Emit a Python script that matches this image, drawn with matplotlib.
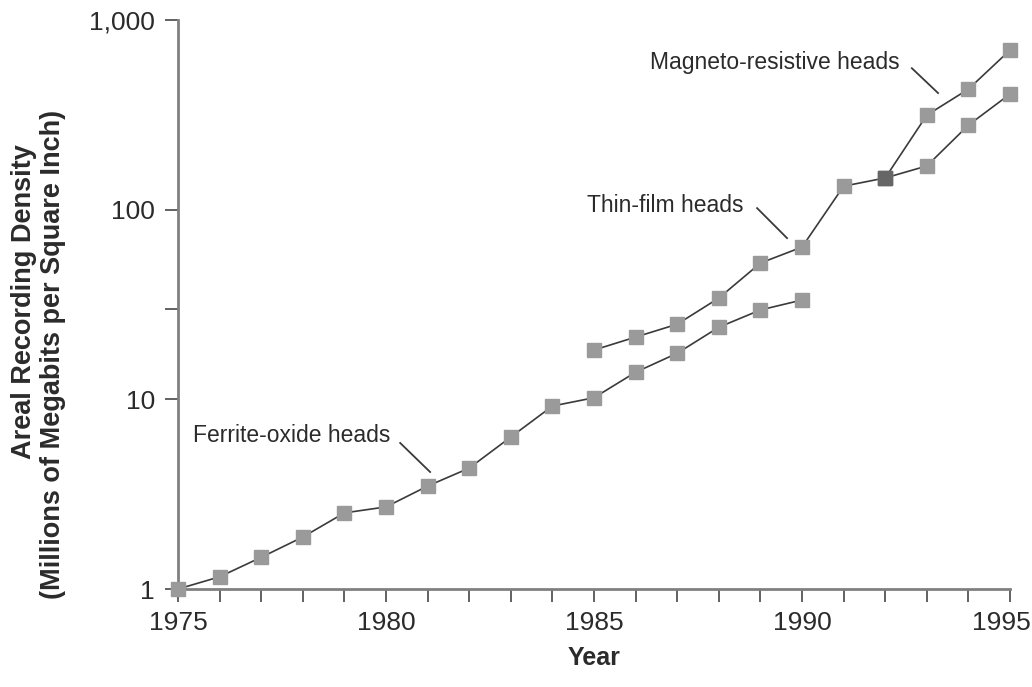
import matplotlib
matplotlib.use("Agg")
import matplotlib.pyplot as plt
from matplotlib.ticker import FixedLocator, NullLocator, NullFormatter
from matplotlib.transforms import ScaledTranslation

plt.rcParams['font.family'] = ['Liberation Sans', 'DejaVu Sans']

# Data
ferrite_years = [1975, 1976, 1977, 1978, 1979, 1980, 1981, 1982, 1983, 1984,
                 1985, 1986, 1987, 1988, 1989, 1990]
ferrite_vals = [1.0, 1.16, 1.47, 1.88, 2.52, 2.71, 3.49, 4.34, 6.33, 9.22,
                10.2, 13.9, 17.5, 24.0, 29.6, 33.4]

thin_years = [1985, 1986, 1987, 1988, 1989, 1990, 1991, 1992, 1993, 1994, 1995]
thin_vals = [18.2, 21.3, 24.9, 34.2, 52.3, 63.5, 133, 147, 170, 279, 407]

mr_years = [1992, 1993, 1994, 1995]
mr_vals = [147, 315, 432, 694]

x_ticks = list(range(1975, 1996))
x_labels = {1975: "1975", 1980: "1980", 1985: "1985", 1990: "1990", 1995: "1995"}
y_ticks = [1, 10, 30, 100, 1000]
y_labels = {1: "1", 10: "10", 30: "", 100: "100", 1000: "1,000"}

text_color = "#2b2b2b"
marker_color = "#9a9a9a"
line_color = "#3a3a3a"
spine_color = "#808080"

W, H = 1032, 687
fig = plt.figure(figsize=(W / 100, H / 100), dpi=100)
ax = fig.add_axes([0.1725, 0.1426, 0.9787 - 0.1725, 0.9709 - 0.1426])
ax.set_yscale('log')
ax.set_xlim(1975, 1995)
ax.set_ylim(1, 1000)

common = dict(color=line_color, lw=1.2, marker='s', markersize=9.5,
              markerfacecolor=marker_color, markeredgecolor=marker_color,
              clip_on=False, zorder=3)
ax.plot(ferrite_years, ferrite_vals, **common)
ax.plot(thin_years, thin_vals, **common)
ax.plot(mr_years, mr_vals, **common)
# darker overlapping marker where magneto-resistive branch begins
ax.plot(mr_years[:1], mr_vals[:1], linestyle='none', marker='s', markersize=9.5,
        markerfacecolor='#666666', markeredgecolor='#666666', clip_on=False, zorder=4)

for s in ['top', 'right']:
    ax.spines[s].set_visible(False)
for s in ['left', 'bottom']:
    ax.spines[s].set_color(spine_color)
    ax.spines[s].set_linewidth(2.0)

ax.xaxis.set_major_locator(FixedLocator(x_ticks))
ax.set_xticklabels([x_labels.get(t, "") for t in x_ticks])
ax.yaxis.set_major_locator(FixedLocator(y_ticks))
ax.set_yticklabels([y_labels[t] for t in y_ticks])
ax.yaxis.set_minor_locator(NullLocator())
ax.yaxis.set_minor_formatter(NullFormatter())

ax.tick_params(axis='both', which='major', direction='out', length=9.5, width=1.3,
               color='#555555', labelsize=19, labelcolor=text_color)
ax.tick_params(axis='x', pad=6)
ax.tick_params(axis='y', pad=7)

# nudge the last x tick label so it stays inside the figure
last_lbl = ax.get_xticklabels()[-1]
last_lbl.set_transform(last_lbl.get_transform() + ScaledTranslation(-9 / 100, 0, fig.dpi_scale_trans))

ax.set_xlabel("Year", fontsize=18, fontweight='bold', color=text_color, labelpad=8)

# two-line y label (lines are not co-centred in the reference)
ylab_kw = dict(fontsize=19.5, fontweight='bold', color=text_color, rotation=90,
               ha='center', va='center')
fig.text(24 / W, 1 - 302 / H, "Areal Recording Density", **ylab_kw)
fig.text(53 / W, 1 - 354 / H, "(Millions of Megabits per Square Inch)", **ylab_kw)

ann_kw = dict(fontsize=16.5, color=text_color, va='center', ha='left')
line_kw = dict(color=line_color, lw=1.3, clip_on=False)

ax.text(1986.35, 600, "Magneto-resistive heads", **ann_kw)
ax.plot([1992.64, 1993.27], [557, 412], **line_kw)

ax.text(1984.83, 105.7, "Thin-film heads", **ann_kw)
ax.plot([1988.92, 1989.64], [101.9, 70.8], **line_kw)

ax.text(1975.36, 6.41, "Ferrite-oxide heads", **ann_kw)
ax.plot([1980.34, 1981.06], [5.89, 4.14], **line_kw)

fig.savefig("out.png", dpi=100)
